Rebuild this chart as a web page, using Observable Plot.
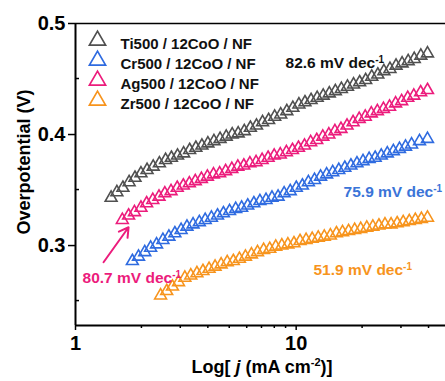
<!DOCTYPE html>
<html>
<head>
<meta charset="utf-8">
<script src="https://cdn.jsdelivr.net/npm/d3@7"></script>
<script src="https://cdn.jsdelivr.net/npm/@observablehq/plot@0.6"></script>
<style>
  html, body { margin: 0; padding: 0; background: #fff; }
  #chart { width: 445px; height: 381px; overflow: hidden; }
</style>
</head>
<body>
<div id="chart"></div>
<script>
// ---------- data ----------
const seriesNames = ["Ti500 / 12CoO / NF", "Cr500 / 12CoO / NF", "Ag500 / 12CoO / NF", "Zr500 / 12CoO / NF"];
const seriesColors = ["#505050", "#2f6be0", "#ec1c7c", "#f7941d"];

const tiJ = [1.45,1.54,1.64,1.75,1.86,1.98,2.11,2.25,2.40,2.56,2.72,2.90,3.09,3.29,3.51,3.74,3.98,4.24,4.52,4.82,5.13,5.46,5.82,6.20,6.61,7.04,7.50,7.99,8.51,9.07,9.66,10.29,10.96,11.68,12.45,13.26,14.13,15.05,16.03,17.08,18.20,19.39,20.65,22.00,23.44,24.97,26.61,28.35,30.20,32.18,34.28,36.73,39.36];
const tiEta = [0.343,0.348,0.352,0.357,0.361,0.365,0.368,0.371,0.374,0.377,0.379,0.381,0.383,0.386,0.388,0.390,0.392,0.394,0.396,0.398,0.400,0.401,0.403,0.406,0.408,0.411,0.413,0.416,0.418,0.421,0.424,0.427,0.429,0.431,0.433,0.435,0.437,0.439,0.441,0.443,0.445,0.447,0.449,0.452,0.454,0.457,0.459,0.462,0.464,0.466,0.468,0.471,0.473];

const crJ = [1.81,1.93,2.06,2.19,2.33,2.49,2.65,2.82,3.01,3.20,3.41,3.64,3.87,4.13,4.40,4.68,4.99,5.32,5.66,6.03,6.43,6.85,7.30,7.77,8.28,8.82,9.40,10.01,10.67,11.36,12.11,12.90,13.74,14.64,15.60,16.61,17.70,18.86,20.09,21.41,22.80,24.30,25.88,27.57,29.38,31.30,33.34,36.22,39.36];
const crEta = [0.286,0.290,0.294,0.298,0.301,0.305,0.308,0.311,0.314,0.317,0.319,0.321,0.323,0.325,0.327,0.329,0.331,0.333,0.334,0.336,0.338,0.340,0.341,0.343,0.344,0.347,0.349,0.352,0.354,0.357,0.359,0.362,0.364,0.366,0.368,0.370,0.372,0.374,0.376,0.378,0.379,0.381,0.383,0.385,0.387,0.389,0.391,0.394,0.396];

const agJ = [1.63,1.74,1.85,1.98,2.10,2.24,2.39,2.54,2.71,2.89,3.08,3.28,3.49,3.72,3.96,4.22,4.50,4.79,5.11,5.44,5.79,6.17,6.58,7.01,7.46,7.95,8.47,9.03,9.62,10.24,10.91,11.63,12.39,13.20,14.06,14.98,15.96,17.00,18.11,19.30,20.56,21.90,23.33,24.86,26.49,28.22,30.06,32.03,34.12,36.64,39.36];
const agEta = [0.323,0.327,0.330,0.334,0.338,0.341,0.344,0.347,0.349,0.352,0.354,0.356,0.358,0.360,0.362,0.364,0.365,0.367,0.369,0.371,0.372,0.374,0.375,0.377,0.379,0.381,0.382,0.384,0.386,0.388,0.390,0.393,0.395,0.398,0.400,0.403,0.405,0.408,0.411,0.414,0.416,0.419,0.421,0.423,0.425,0.428,0.430,0.433,0.435,0.438,0.440];

const zrJ = [2.43,2.59,2.75,2.93,3.13,3.33,3.55,3.78,4.03,4.29,4.57,4.87,5.19,5.53,5.89,6.27,6.68,7.12,7.59,8.08,8.61,9.17,9.77,10.41,11.09,11.82,12.59,13.41,14.29,15.22,16.22,17.28,18.41,19.61,20.89,22.26,23.71,25.26,26.92,28.68,30.55,32.55,34.67,36.94,39.36];
const zrEta = [0.255,0.259,0.263,0.267,0.271,0.273,0.275,0.277,0.279,0.281,0.283,0.285,0.286,0.288,0.290,0.292,0.294,0.296,0.297,0.299,0.300,0.301,0.302,0.304,0.305,0.306,0.307,0.308,0.309,0.311,0.312,0.313,0.314,0.315,0.316,0.317,0.318,0.319,0.319,0.320,0.321,0.322,0.323,0.324,0.325];

// Tafel slope annotations
const slopeTexts = ["82.6 mV dec", "75.9 mV dec", "80.7 mV dec", "51.9 mV dec"];
const slopeJ = [8.95, 16.4, 1.076, 11.98];
const slopeEta = [0.464, 0.348, 0.2706, 0.2778];
const slopeColors = ["#111111", "#3a74d8", "#ec1c7c", "#f7941d"];
const slopeSup = "-1";

// arrow pointing to Ag curve
const arrowFrom = [1.34, 0.285];
const arrowTo = [1.74, 0.3165];

// axes
const xDomain = [1, 47.5];
const yDomain = [0.228, 0.5];
const xTicks = [1, 10];
const yTicks = [0.3, 0.4, 0.5];
const xMinorTicks = [2, 3, 4, 5, 6, 7, 8, 9, 20, 30, 40];
const yMinorTicks = [0.25, 0.35, 0.45];
const xTitle = ["Log[ ", "j", " (mA cm", "-2", ")]"];
const yTitle = "Overpotential (V)";

// ---------- build table ----------
const seriesJ = [tiJ, crJ, agJ, zrJ];
const seriesEta = [tiEta, crEta, agEta, zrEta];
const points = [];
seriesNames.forEach((name, i) => {
  const n = Math.min(seriesJ[i].length, seriesEta[i].length);
  for (let k = 0; k < n; k++) points.push({name, j: seriesJ[i][k], eta: seriesEta[i][k]});
});
const slopes = slopeTexts.map((t, i) => ({t, j: slopeJ[i], eta: slopeEta[i], c: slopeColors[i]}));

const FONT = "'Liberation Sans', Arial, Helvetica, sans-serif";

const legendMarks = seriesNames.flatMap((name, i) => [
  Plot.dot([name], {frameAnchor: "top-left", dx: 22, dy: 17 + i * 20, symbol: "triangle", r: 6, stroke: d => d, strokeWidth: 1.7, fill: "none"}),
  Plot.text([name], {frameAnchor: "top-left", dx: 45, dy: 15 + i * 20, text: d => d, textAnchor: "start", fontSize: 15, fontWeight: "bold", fill: "#111"})
]);

const chart = Plot.plot({
  width: 445,
  height: 381,
  marginLeft: 75,
  marginRight: 0,
  marginTop: 23,
  marginBottom: 56,
  style: {fontFamily: FONT, fontSize: "20px", fontWeight: "bold", color: "#000", background: "#fff"},
  x: {type: "log", domain: xDomain, ticks: xTicks, tickFormat: d => String(d), tickSize: 5, tickPadding: 5, label: null},
  y: {domain: yDomain, ticks: yTicks, tickFormat: d => d.toFixed(1), tickSize: 7, tickPadding: 3, label: null},
  color: {domain: seriesNames, range: seriesColors},
  marks: [
    Plot.ruleY([yDomain[1]], {stroke: "#000", strokeWidth: 1.5}),
    Plot.ruleY([yDomain[0]], {stroke: "#000", strokeWidth: 2}),
    Plot.ruleX([xDomain[0]], {stroke: "#000", strokeWidth: 2}),
    Plot.dot(points, {x: "j", y: "eta", stroke: "name", symbol: "triangle", r: 4.4, strokeWidth: 1.6, fill: "none"}),
    Plot.arrow([{x1: arrowFrom[0], y1: arrowFrom[1], x2: arrowTo[0], y2: arrowTo[1]}], {x1: "x1", y1: "y1", x2: "x2", y2: "y2", stroke: "#ec1c7c", strokeWidth: 2, headLength: 8}),
    Plot.text(slopes, {x: "j", y: "eta", text: "t", fill: "c", textAnchor: "start", fontSize: 15.5, fontWeight: "bold"}),
    ...legendMarks
  ]
});

document.getElementById("chart").appendChild(chart);

// ---------- post-processing: superscripts, titles, minor ticks ----------
const svg = d3.select(chart);
svg.selectAll("text").filter(function() {
  return slopeTexts.includes(this.textContent);
}).each(function() {
  d3.select(this).append("tspan").attr("dy", "-0.55em").attr("font-size", "10px").text(slopeSup);
});

const sx = chart.scale("x"), sy = chart.scale("y");
const xs = d3.scaleLog().domain(sx.domain).range(sx.range);
const ys = d3.scaleLinear().domain(sy.domain).range(sy.range);
const axisY = ys(yDomain[0]), axisX = xs(xDomain[0]);

const minor = svg.append("g").attr("stroke", "#000").attr("stroke-width", 1.5);
xMinorTicks.forEach(v => minor.append("line").attr("x1", xs(v)).attr("x2", xs(v)).attr("y1", axisY).attr("y2", axisY + 3));
yMinorTicks.forEach(v => minor.append("line").attr("x1", axisX).attr("x2", axisX + 4).attr("y1", ys(v)).attr("y2", ys(v)));

svg.selectAll('g[aria-label="x-axis tick"] path, g[aria-label="y-axis tick"] path, g[aria-label="x-axis"] line, g[aria-label="y-axis"] line')
  .attr("stroke-width", 1.5);

const xt = svg.append("text").attr("x", 262).attr("y", 373).attr("text-anchor", "middle")
  .attr("font-size", 18).attr("font-weight", "bold").attr("fill", "#000").attr("font-family", FONT);
xt.append("tspan").text(xTitle[0]);
xt.append("tspan").attr("font-style", "italic").text(xTitle[1]);
xt.append("tspan").text(xTitle[2]);
xt.append("tspan").attr("dy", -7).attr("font-size", 11).text(xTitle[3]);
xt.append("tspan").attr("dy", 7).text(xTitle[4]);

svg.append("text").attr("transform", "translate(30,162) rotate(-90)").attr("text-anchor", "middle")
  .attr("font-size", 18).attr("font-weight", "bold").attr("fill", "#000").attr("font-family", FONT)
  .text(yTitle);
</script>
</body>
</html>
